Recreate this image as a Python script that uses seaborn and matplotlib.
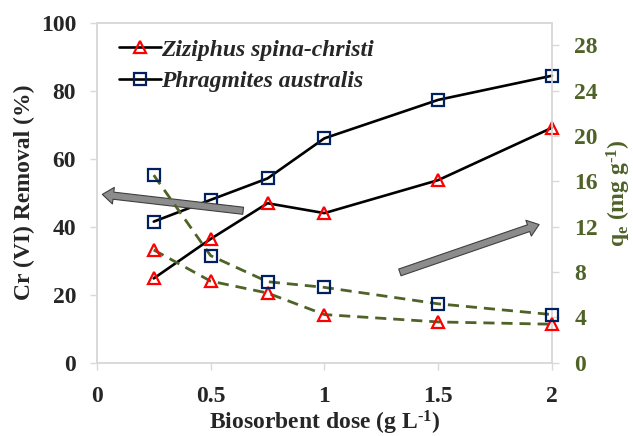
import numpy as np
import pandas as pd
import matplotlib
matplotlib.use("Agg")
import matplotlib.pyplot as plt
import seaborn as sns

# Biosorbent dose (g/L)
dose = [0.25, 0.5, 0.75, 1.0, 1.5, 2.0]

# Cr(VI) removal (%)
removal_ziziphus = [24.8, 36.4, 46.9, 44.0, 53.7, 69.1]
removal_phragmites = [41.5, 47.9, 54.2, 66.0, 77.3, 84.4]

# Adsorption capacity qe (mg/g)
qe_ziziphus = [9.95, 7.2, 6.15, 4.25, 3.6, 3.4]
qe_phragmites = [16.55, 9.45, 7.15, 6.65, 5.2, 4.25]

species = ["Ziziphus spina-christi", "Phragmites australis"]
x_ticks = [0, 0.5, 1, 1.5, 2]
x_tick_labels = ["0", "0.5", "1", "1.5", "2"]
left_ticks = [0, 20, 40, 60, 80, 100]
right_ticks = [0, 4, 8, 12, 16, 20, 24, 28]

sns.set_style("white")
plt.rcParams["font.family"] = ["Liberation Serif", "DejaVu Serif"]
plt.rcParams["font.weight"] = "bold"
plt.rcParams["mathtext.fontset"] = "custom"
plt.rcParams["mathtext.rm"] = "Liberation Serif:bold"
plt.rcParams["mathtext.it"] = "Liberation Serif:bold"
plt.rcParams["mathtext.bf"] = "Liberation Serif:bold"

df_rem = pd.DataFrame({
    "dose": dose * 2,
    "value": removal_ziziphus + removal_phragmites,
    "species": [species[0]] * 6 + [species[1]] * 6,
})
df_qe = pd.DataFrame({
    "dose": dose * 2,
    "value": qe_ziziphus + qe_phragmites,
    "species": [species[0]] * 6 + [species[1]] * 6,
})

fig = plt.figure(figsize=(6.33, 4.36), dpi=100)
ax = fig.add_axes([0.153, 0.168, 0.719, 0.78])
ax2 = ax.twinx()

red = "#FF0000"
navy = "#002060"
olive = "#4F6228"
spine_gray = "#D9D9D9"
mk = dict(markersize=9, markeredgewidth=1.6, markerfacecolor="none",
          clip_on=False)

for sp, marker, mcol in [(species[0], "^", red), (species[1], "s", navy)]:
    sub = df_rem[df_rem["species"] == sp]
    sns.lineplot(data=sub, x="dose", y="value", ax=ax, color="black",
                 linewidth=1.9, marker=marker, markeredgecolor=mcol,
                 label=sp, zorder=3, **mk)
    sub2 = df_qe[df_qe["species"] == sp]
    sns.lineplot(data=sub2, x="dose", y="value", ax=ax2, color=olive,
                 linewidth=2.0, linestyle=(0, (4, 2.5)), marker=marker,
                 markeredgecolor=mcol, legend=False, zorder=3, **mk)

ax.set_xlim(0, 2)
ax.set_ylim(0, 100)
ax2.set_ylim(0, 30)
ax.set_xticks(x_ticks)
ax.set_xticklabels(x_tick_labels)
ax.set_yticks(left_ticks)
ax2.set_yticks(right_ticks)

fs = 17
ax.tick_params(axis="x", labelsize=fs, length=5, color=spine_gray,
               direction="out", width=1, pad=12, bottom=True)
ax.tick_params(axis="y", labelsize=fs, length=5, color=spine_gray,
               direction="out", width=1, pad=10, left=True)
ax2.tick_params(axis="y", labelsize=fs, length=5, color=spine_gray,
                direction="out", width=1, labelcolor=olive, right=True,
                pad=11)
for lab in ax.get_xticklabels() + ax.get_yticklabels() + ax2.get_yticklabels():
    lab.set_fontweight("bold")

for a in (ax, ax2):
    for s in a.spines.values():
        s.set_color(spine_gray)
        s.set_linewidth(1.2)

ax.set_xlabel(r"Biosorbent dose (g L$^{\text{-1}}$)", fontsize=fs,
              fontweight="bold", labelpad=1)
ax.set_ylabel("Cr (VI) Removal (%)", fontsize=fs, fontweight="bold",
              labelpad=4)
ax2.set_ylabel(r"q$_{\text{e}}$ (mg g$^{\text{-1}}$)", fontsize=fs,
               fontweight="bold", color=olive, rotation=90, labelpad=5)

leg = ax.legend(loc="upper left", frameon=False, handlelength=1.8,
                handletextpad=0.0, labelspacing=0.42, borderaxespad=0.3,
                bbox_to_anchor=(0.012, 1.0),
                prop={"family": "Liberation Serif", "style": "italic",
                      "weight": "bold", "size": fs})

# Block arrows indicating which axis each set of curves belongs to
arrow_kw = dict(arrowstyle="simple,head_length=0.5,head_width=0.75,tail_width=0.32",
                fc="#8C8C8C", ec="#3F3F3F", lw=0.8, mutation_scale=16)
ax.annotate("", xy=(0.012, 49.6), xytext=(0.655, 44.6),
            arrowprops=arrow_kw, zorder=5)
ax.annotate("", xy=(1.955, 40.9), xytext=(1.32, 26.3),
            arrowprops=arrow_kw, zorder=5)

fig.savefig("out.png", dpi=100)
